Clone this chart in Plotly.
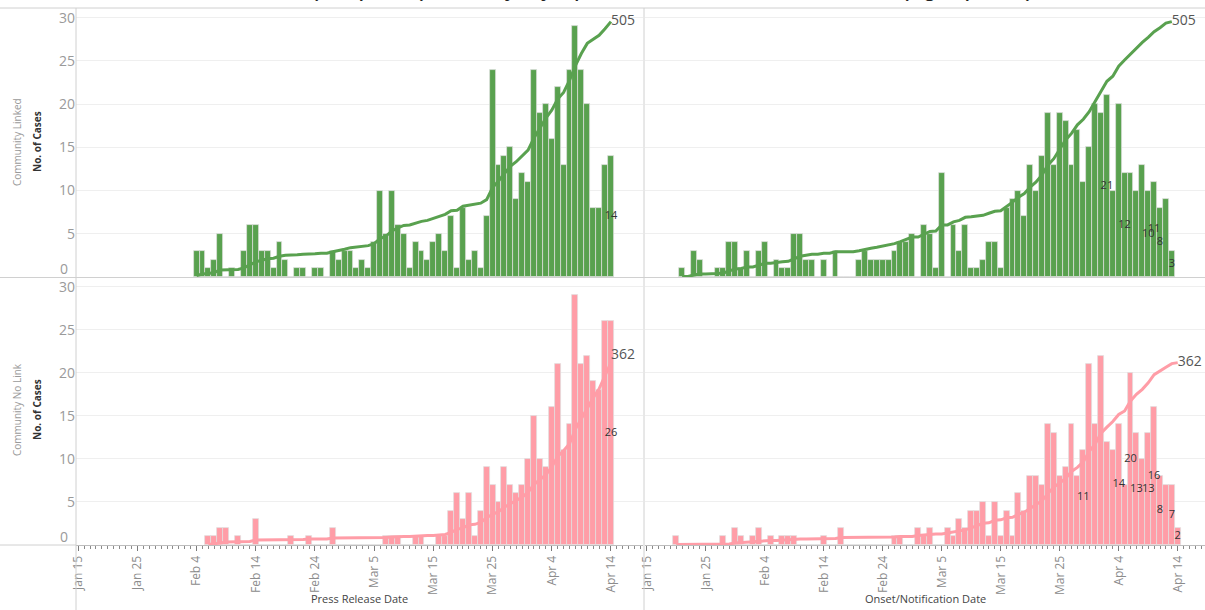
import pandas as pd
import plotly.graph_objects as go

# ---------------- data ----------------
# Community Linked, by press release date (Feb 4 .. Apr 14)
linked_press_start = "2020-02-04"
linked_press = [3, 3, 1, 2, 5, 0, 1, 0, 3, 6, 6, 3, 3, 1, 4, 2, 0, 1, 1, 0, 1, 1, 0, 3, 2, 3,
                3, 1, 2, 1, 4, 10, 5, 10, 6, 5, 1, 4, 3, 2, 4, 5, 3, 7, 1, 8, 2, 3, 1, 7,
                24, 13, 14, 15, 9, 12, 11,
                24, 19, 20, 16, 22, 13, 24, 29, 24, 20, 8, 8, 13, 14]
# Community Linked, by onset/notification date (Jan 21 .. Apr 13)
linked_onset_start = "2020-01-21"
linked_onset = [1, 0, 3, 2, 0, 0, 1, 1, 4, 4, 1,
                3, 0, 3, 4, 0, 2, 1, 1, 5, 5, 2, 2, 0, 2, 0, 3, 0, 0, 0, 2, 3, 2, 2, 2, 2, 3, 4, 4, 5,
                0, 6, 5, 1, 12, 0, 6, 3, 6, 1, 1, 2, 4, 4, 1, 8, 9, 10, 7, 13, 10, 14, 19, 13, 19, 18,
                13, 17, 11, 15, 20,
                19, 21, 10, 20, 12, 12, 10, 13, 10, 11, 8, 9, 3]
# Community No Link, by press release date (Feb 6 .. Apr 14)
nolink_press_start = "2020-02-06"
nolink_press = [1, 1, 2, 2, 0, 1, 0, 0, 3, 0, 0, 0, 0, 0, 1, 0, 0, 1, 0, 0, 0, 2, 0, 0,
                0, 0, 0, 0, 0, 0, 1, 1, 1, 0, 0, 1, 1, 0, 0, 1, 1, 4, 6, 3, 6, 1, 4, 9, 7, 5, 9, 7,
                6, 7, 10,
                15, 10, 9, 16, 21, 11, 14, 29, 21, 22, 19, 18, 26, 26]
# Community No Link, by onset/notification date (Jan 20 .. Apr 14)
nolink_onset_start = "2020-01-20"
nolink_onset = [1, 0, 0, 0, 0, 0, 0, 0, 1, 0, 2, 1,
                0, 1, 2, 0, 1, 0, 1, 1, 1, 0, 0, 0, 0, 1, 0, 0, 2, 0, 0, 0, 0, 0, 0, 0, 0, 1, 1, 0, 0,
                2, 1, 2, 0, 0, 2, 1, 3, 2, 4, 4, 5, 1, 5, 1, 4, 1, 6, 4, 8, 8, 7, 14, 13, 8, 9, 14, 8,
                11, 21, 14,
                22, 12, 11, 14, 7, 20, 13, 10, 13, 16, 8, 7, 7, 2]

# dates whose bar value is printed
linked_press_labels = ["2020-04-14"]
linked_onset_labels = ["2020-04-02", "2020-04-05", "2020-04-09", "2020-04-10", "2020-04-11", "2020-04-13"]
nolink_press_labels = ["2020-04-14"]
nolink_onset_labels = ["2020-03-29", "2020-04-04", "2020-04-06", "2020-04-07", "2020-04-09",
                       "2020-04-10", "2020-04-11", "2020-04-13", "2020-04-14"]

tick_dates = ["2020-01-15", "2020-01-25", "2020-02-04", "2020-02-14", "2020-02-24",
              "2020-03-05", "2020-03-15", "2020-03-25", "2020-04-04", "2020-04-14"]
tick_text = ["Jan 15", "Jan 25", "Feb 4", "Feb 14", "Feb 24", "Mar 5", "Mar 15", "Mar 25", "Apr 4", "Apr 14"]

title_text = "(left panel), and by Symptom Onset/Notification Date (right panel)"

GREEN = "#59A14F"
PINK = "#FF9DA7"
FONT = "Open Sans"

W, H = 1205, 610


def px_x(p):
    return p / W


def px_y(p):
    return 1 - p / H


fig = go.Figure()

panels = [
    (linked_press, linked_press_start, linked_press_labels, GREEN, "x", "y", "y5", "middle right"),
    (linked_onset, linked_onset_start, linked_onset_labels, GREEN, "x2", "y2", "y6", "middle right"),
    (nolink_press, nolink_press_start, nolink_press_labels, PINK, "x3", "y3", "y7", "top right"),
    (nolink_onset, nolink_onset_start, nolink_onset_labels, PINK, "x4", "y4", "y8", "middle right"),
]

DAY_MS = 86400000

for vals, start, labels, color, xa, ya, ya2, endpos in panels:
    s = pd.Series(vals, index=pd.date_range(start, periods=len(vals), freq="D"))
    cum = s.cumsum()
    fig.add_trace(go.Bar(
        x=s.index, y=s.values, xaxis=xa, yaxis=ya,
        marker=dict(color=color, line=dict(color="rgba(225,225,225,0.9)", width=0.8)),
        width=DAY_MS, showlegend=False, hoverinfo="x+y"))
    fig.add_trace(go.Scatter(
        x=cum.index, y=cum.values, xaxis=xa, yaxis=ya2, mode="lines",
        line=dict(color=color, width=3), showlegend=False, hoverinfo="x+y"))
    lab_idx = pd.to_datetime(labels)
    fig.add_trace(go.Scatter(
        x=lab_idx, y=s.loc[lab_idx].values / 2, xaxis=xa, yaxis=ya, mode="text",
        text=[str(v) for v in s.loc[lab_idx].values],
        textfont=dict(family=FONT, size=11, color="#333333"),
        cliponaxis=False, showlegend=False, hoverinfo="skip"))
    fig.add_trace(go.Scatter(
        x=[cum.index[-1]], y=[cum.values[-1]], xaxis=xa, yaxis=ya2, mode="text",
        text=[str(cum.values[-1])], textposition=endpos,
        textfont=dict(family=FONT, size=14, color="#555555"),
        cliponaxis=False, showlegend=False, hoverinfo="skip"))

left_dom = [px_x(76), px_x(643)]
right_dom = [px_x(645), 1.0]
top_dom = [px_y(277), px_y(9)]
bot_dom = [px_y(545), px_y(278)]

left_range = ["2020-01-14 15:00", "2020-04-19 10:00"]
right_range = ["2020-01-14 17:00", "2020-04-18 15:00"]

Y_MAX = 31
Y2_MAX = 530

common_x = dict(type="date", showgrid=False, zeroline=False, fixedrange=True, automargin=False)
fig.update_layout(
    xaxis=dict(domain=left_dom, anchor="y", range=left_range, showticklabels=False,
               ticks="", showline=False, **common_x),
    xaxis2=dict(domain=right_dom, anchor="y2", range=right_range, showticklabels=False,
                ticks="", showline=False, **common_x),
    xaxis3=dict(domain=left_dom, anchor="y3", range=left_range, **common_x),
    xaxis4=dict(domain=right_dom, anchor="y4", range=right_range, **common_x),
)
for name in ["xaxis3", "xaxis4"]:
    fig.layout[name].update(
        showticklabels=True, tickmode="array", tickvals=tick_dates, ticktext=tick_text,
        tickangle=-90, tickfont=dict(family=FONT, size=12, color="#8c8c8c"),
        ticks="outside", ticklen=5, tickcolor="#7a7a7a", tickwidth=1,
        showline=True, linecolor="#bdbdbd", linewidth=1,
        minor=dict(dtick=DAY_MS, ticks="outside", ticklen=3, tickcolor="#8a8a8a", tickwidth=1,
                   showgrid=False),
    )

common_y = dict(range=[0, Y_MAX], showgrid=True, gridcolor="#efefef", gridwidth=1,
                zeroline=False, fixedrange=True, tickmode="array", automargin=False,
                tickvals=[5, 10, 15, 20, 25, 30])
fig.update_layout(
    yaxis=dict(domain=top_dom, anchor="x", showticklabels=True, **common_y),
    yaxis2=dict(domain=top_dom, anchor="x2", showticklabels=False, **common_y),
    yaxis3=dict(domain=bot_dom, anchor="x3", showticklabels=True, **common_y),
    yaxis4=dict(domain=bot_dom, anchor="x4", showticklabels=False, **common_y),
)
for name in ["yaxis", "yaxis3"]:
    fig.layout[name].update(tickfont=dict(family=FONT, size=14, color="#9a9a9a"), ticks="")
for i, (ov, xa) in enumerate([("y", "x"), ("y2", "x2"), ("y3", "x3"), ("y4", "x4")]):
    fig.layout["yaxis%d" % (i + 5)] = dict(overlaying=ov, anchor=xa, range=[0, Y2_MAX],
                                           visible=False, fixedrange=True)

annotations = []
for ya in ["y", "y3"]:
    annotations.append(dict(xref="paper", yref=ya, x=px_x(70), y=0, yshift=9, text="0",
                            showarrow=False, xanchor="right", yanchor="middle",
                            font=dict(family=FONT, size=14, color="#9a9a9a")))
for text, cy in [("Community Linked", 142), ("Community No Link", 410)]:
    annotations.append(dict(xref="paper", yref="paper", x=px_x(17), y=px_y(cy), text=text,
                            textangle=-90, showarrow=False, xanchor="center", yanchor="middle",
                            font=dict(family=FONT, size=10, color="#9a9a9a")))
    annotations.append(dict(xref="paper", yref="paper", x=px_x(37), y=px_y(cy), text="<b>No. of Cases</b>",
                            textangle=-90, showarrow=False, xanchor="center", yanchor="middle",
                            font=dict(family=FONT, size=10, color="#333333")))
for text, cx in [("Press Release Date", 359.5), ("Onset/Notification Date", 925)]:
    annotations.append(dict(xref="paper", yref="paper", x=px_x(cx), y=px_y(598), text=text,
                            showarrow=False, xanchor="center", yanchor="middle",
                            font=dict(family=FONT, size=11, color="#444444")))
# title, mostly above the view as in the original (only its lowest strokes show)
annotations.append(dict(xref="paper", yref="paper", x=px_x(672), y=px_y(3), text=title_text,
                        showarrow=False, xanchor="center", yanchor="bottom",
                        font=dict(family="Liberation Sans", size=25, color="#222222")))

shapes = [
    dict(type="line", xref="paper", yref="paper", x0=0, x1=1, y0=px_y(8), y1=px_y(8),
         line=dict(color="#d0d0d0", width=1)),
    dict(type="line", xref="paper", yref="paper", x0=0, x1=1, y0=px_y(277.5), y1=px_y(277.5),
         line=dict(color="#d0d0d0", width=1)),
    dict(type="line", xref="paper", yref="paper", x0=0, x1=px_x(76), y0=px_y(545), y1=px_y(545),
         line=dict(color="#d0d0d0", width=1)),
    dict(type="line", xref="paper", yref="paper", x0=px_x(76), x1=px_x(76), y0=0, y1=px_y(8),
         line=dict(color="#d0d0d0", width=1)),
    dict(type="line", xref="paper", yref="paper", x0=px_x(644), x1=px_x(644), y0=0, y1=px_y(8),
         line=dict(color="#d0d0d0", width=1)),
]

fig.update_layout(
    width=W, height=H, margin=dict(l=0, r=0, t=0, b=0, pad=0),
    paper_bgcolor="white", plot_bgcolor="white",
    bargap=0, showlegend=False,
    annotations=annotations, shapes=shapes,
    font=dict(family=FONT),
)

post = ("document.documentElement.style.margin='0';document.body.style.margin='0';"
        "document.body.style.overflow='hidden';"
        "var d=document.getElementById('{plot_id}');d.style.position='absolute';"
        "d.style.left='0px';d.style.top='0px';")
fig.write_html("out.html", config={"displayModeBar": False}, post_script=post)
